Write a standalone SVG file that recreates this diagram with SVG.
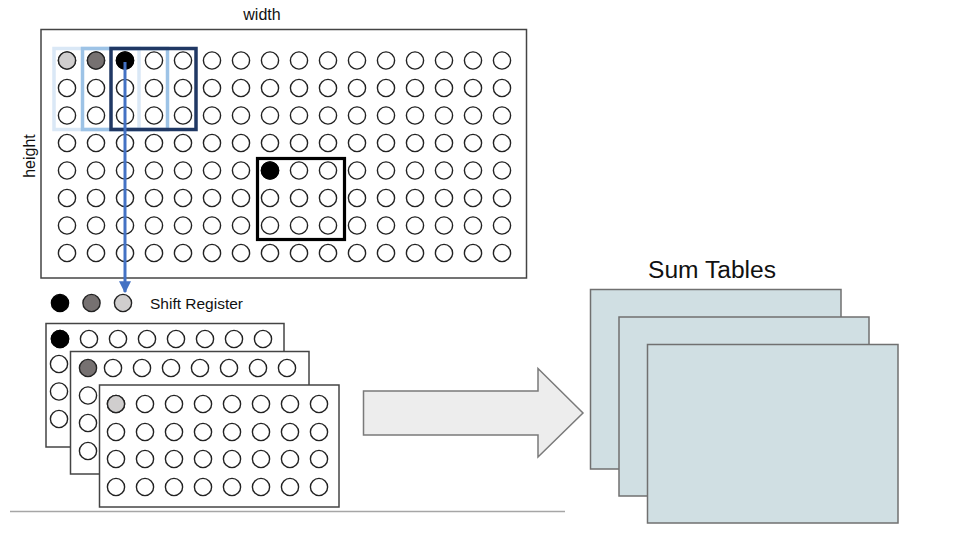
<svg xmlns="http://www.w3.org/2000/svg" width="953" height="553" viewBox="0 0 953 553">
<defs>
<style>
.c{fill:#fff;stroke:#222;stroke-width:1.4}
.frame{fill:#fff;stroke:#444;stroke-width:1.5}
.lbl{font-family:"Liberation Sans",Arial,sans-serif;fill:#111}
.sum{fill:#d0dfe3;stroke:#707070;stroke-width:1.5}
</style>
<marker id="ah" viewBox="0 0 10 10" refX="9" refY="5" markerWidth="4.3" markerHeight="4" markerUnits="strokeWidth" orient="auto">
<path d="M0,0 L10,5 L0,10 z" fill="#4472c4"/>
</marker>
<circle id="o" r="8.6" class="c"/>
<g id="row16">
<use href="#o" x="67"/><use href="#o" x="96"/><use href="#o" x="125"/><use href="#o" x="154"/><use href="#o" x="183"/><use href="#o" x="212"/><use href="#o" x="241"/><use href="#o" x="270"/><use href="#o" x="299"/><use href="#o" x="328"/><use href="#o" x="357"/><use href="#o" x="386"/><use href="#o" x="415"/><use href="#o" x="444"/><use href="#o" x="473"/><use href="#o" x="502"/>
</g>
<g id="row8">
<use href="#o" x="0"/><use href="#o" x="29"/><use href="#o" x="58"/><use href="#o" x="87"/><use href="#o" x="116"/><use href="#o" x="145"/><use href="#o" x="174"/><use href="#o" x="203"/>
</g>
</defs>
<rect width="953" height="553" fill="#fff"/>

<g id="input-image">
<rect class="frame" x="41" y="29.5" width="485.5" height="248.5"/>
<use href="#row16" y="60.5"/>
<use href="#row16" y="88"/>
<use href="#row16" y="115.5"/>
<use href="#row16" y="143"/>
<use href="#row16" y="170.5"/>
<use href="#row16" y="198"/>
<use href="#row16" y="225.5"/>
<use href="#row16" y="253"/>
<circle cx="67" cy="60.5" r="8.6" fill="#d0cece" stroke="#222" stroke-width="1.4"/>
<circle cx="96" cy="60.5" r="8.6" fill="#767171" stroke="#222" stroke-width="1.4"/>
<circle cx="125" cy="60.5" r="8.6" fill="#000" stroke="#000" stroke-width="1.4"/>
<circle cx="270" cy="170.5" r="8.6" fill="#000" stroke="#000" stroke-width="1.4"/>
<text class="lbl" x="262" y="20" font-size="16" text-anchor="middle">width</text>
<text class="lbl" x="0" y="0" font-size="16" text-anchor="middle" transform="translate(35,156) rotate(-90)">height</text>
</g>

<g id="window-1">
<rect x="54" y="48.5" width="85" height="81" fill="none" stroke="#dae8f6" stroke-width="3.5"/>
</g>
<g id="window-2">
<rect x="82.5" y="48.5" width="85" height="81" fill="none" stroke="#9dc3e6" stroke-width="3.5"/>
</g>
<g id="window-3">
<rect x="111" y="48.5" width="85" height="81" fill="none" stroke="#203864" stroke-width="3.5"/>
</g>
<g id="window-center">
<rect x="257.5" y="158.5" width="87" height="81" fill="none" stroke="#000" stroke-width="3.2"/>
</g>

<g id="shift-register">
<circle cx="60" cy="303" r="8.6" fill="#000" stroke="#000" stroke-width="1.4"/>
<circle cx="91.5" cy="303" r="8.6" fill="#767171" stroke="#222" stroke-width="1.4"/>
<circle cx="123" cy="303" r="8.6" fill="#d0cece" stroke="#222" stroke-width="1.4"/>
<text class="lbl" x="150" y="309" font-size="15" textLength="93" lengthAdjust="spacingAndGlyphs">Shift Register</text>
</g>

<g id="buffer-1">
<rect class="frame" x="46" y="323.5" width="238" height="123.5"/>
<use href="#row8" x="60" y="339"/>
<use href="#o" x="59" y="364"/>
<use href="#o" x="59" y="391.5"/>
<use href="#o" x="59" y="419"/>
<circle cx="60" cy="339" r="8.6" fill="#000" stroke="#000" stroke-width="1.4"/>
</g>
<g id="buffer-2">
<rect class="frame" x="70.5" y="351.5" width="238.5" height="122.5"/>
<circle cx="88" cy="368" r="8.6" fill="#767171" stroke="#222" stroke-width="1.4"/>
<use href="#o" x="113" y="368"/>
<use href="#o" x="142" y="368"/>
<use href="#o" x="171" y="368"/>
<use href="#o" x="200" y="368"/>
<use href="#o" x="229" y="368"/>
<use href="#o" x="258" y="368"/>
<use href="#o" x="287" y="368"/>
<use href="#o" x="88" y="395.5"/>
<use href="#o" x="88" y="423"/>
<use href="#o" x="88" y="451"/>
</g>
<g id="buffer-3">
<rect class="frame" x="99.5" y="385" width="239.5" height="122"/>
<use href="#row8" x="116" y="404"/>
<use href="#row8" x="116" y="432"/>
<use href="#row8" x="116" y="459"/>
<use href="#row8" x="116" y="487"/>
<circle cx="116" cy="404" r="8.6" fill="#d0cece" stroke="#222" stroke-width="1.4"/>
</g>

<g id="baseline">
<line x1="10" y1="511.5" x2="565" y2="511.5" stroke="#a6a6a6" stroke-width="1.3"/>
</g>

<g id="sum-tables">
<text class="lbl" x="648" y="278" font-size="23" textLength="128" lengthAdjust="spacingAndGlyphs">Sum Tables</text>
<rect class="sum" x="590.5" y="289.5" width="250.5" height="179.5"/>
<rect class="sum" x="619" y="317" width="250" height="179"/>
<rect class="sum" x="647.5" y="344.5" width="250.5" height="178.5"/>
</g>

<g id="connectors">
<line x1="125" y1="62" x2="125" y2="292" stroke="#4472c4" stroke-width="3" marker-end="url(#ah)"/>
<path d="M363.5,391 H538 V368.5 L583,413 L538,457 V435 H363.5 Z" fill="#ededed" stroke="#7a7a7a" stroke-width="1.5"/>
</g>
</svg>
